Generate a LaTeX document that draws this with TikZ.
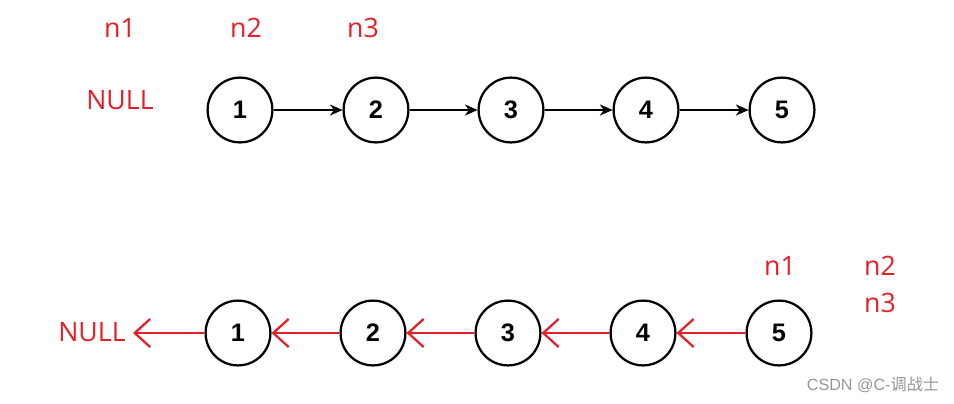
\documentclass[tikz,border=0pt]{standalone}
\usepackage{fontspec}
\setmainfont{Liberation Sans}
\newfontfamily\labelfont{Open Sans}
\newfontfamily\cjkfont{Noto Sans CJK SC}
\usepackage{xcolor}
\usetikzlibrary{arrows.meta,positioning}
\definecolor{ptrred}{RGB}{230,30,40}
\definecolor{markgray}{RGB}{150,150,150}

\tikzset{
  listnode/.style={circle, draw=black, line width=1.6pt, minimum size=1.62cm, inner sep=0pt, font=\fontsize{18}{18}\selectfont\bfseries},
  ptrlabel/.style={text=ptrred, font=\labelfont\fontsize{19}{19}\selectfont, inner sep=0pt},
  nextarrow/.style={draw=black, line width=1.1pt, -{Stealth[length=9pt,width=8pt]}},
  revarrow/.style={draw=ptrred, line width=1.6pt, -{Straight Barb[length=11pt,width=20pt,line width=1.6pt]}}
}

\begin{document}
\begin{tikzpicture}[x=0.025cm, y=-0.025cm]
\useasboundingbox (0,0) rectangle (954,403);

% original list
\node[listnode] (a1) at (240,110) {1};
\node[listnode] (a2) at (376,110) {2};
\node[listnode] (a3) at (511,110) {3};
\node[listnode] (a4) at (646,110) {4};
\node[listnode] (a5) at (782,110) {5};
\foreach \i/\j in {1/2,2/3,3/4,4/5}
  \draw[nextarrow] (a\i) -- (a\j);

\node[ptrlabel] (tn1) at (120,28) {n1};
\node[ptrlabel] (tn2) at (246,28) {n2};
\node[ptrlabel] (tn3) at (363,28) {n3};
\node[ptrlabel] (tnull) at (120,100) {NULL};

% reversed list
\node[listnode] (b1) at (238,333) {1};
\node[listnode] (b2) at (373,333) {2};
\node[listnode] (b3) at (508,333) {3};
\node[listnode] (b4) at (643,333) {4};
\node[listnode] (b5) at (779,333) {5};
\node[ptrlabel] (bnull) at (92,332) {NULL};
\coordinate (nullend) at (133,333);
\draw[revarrow] (b1) -- (nullend);
\foreach \i/\j in {2/1,3/2,4/3,5/4}
  \draw[revarrow] (b\i) -- (b\j);

\node[ptrlabel] (bn1) at (780,266) {n1};
\node[ptrlabel] (bn2) at (880,266) {n2};
\node[ptrlabel] (bn3) at (880,303) {n3};

\node[text=markgray, font=\fontsize{11.5}{12}\selectfont, inner sep=0pt] (mark) at (873,385) {CSDN @C-{\cjkfont 调战士}};
\end{tikzpicture}
\end{document}
